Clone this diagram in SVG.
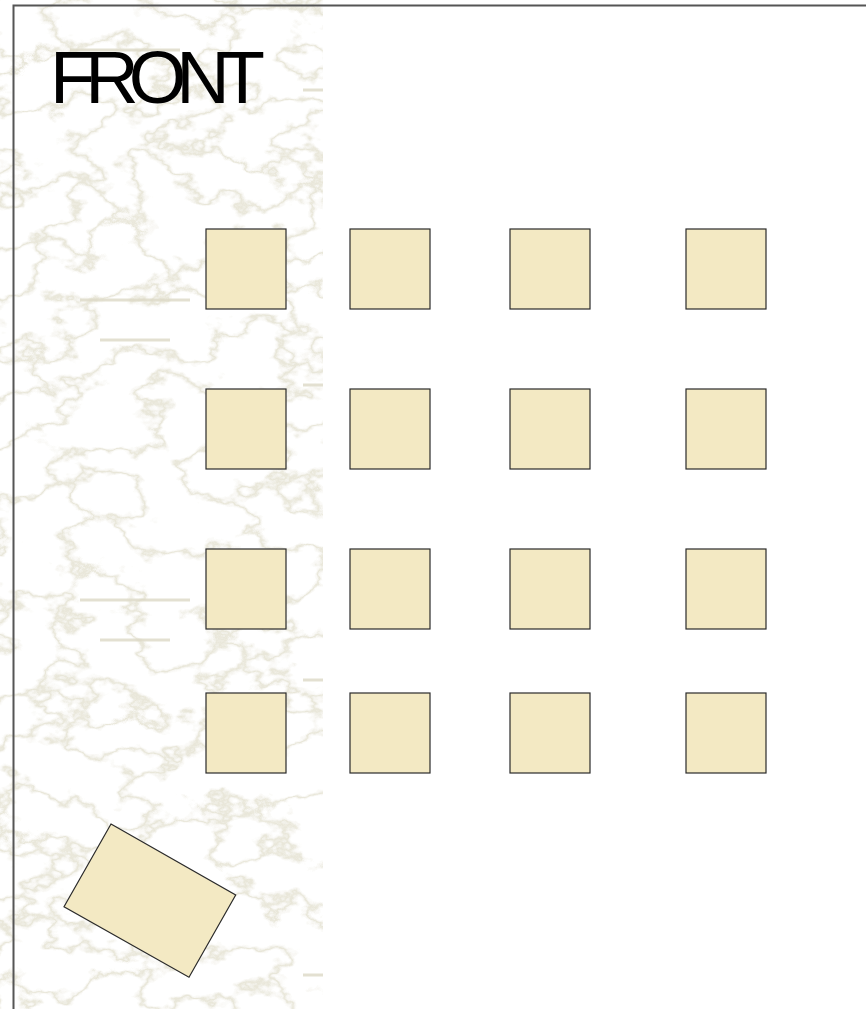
<svg xmlns="http://www.w3.org/2000/svg" width="866" height="1009" viewBox="0 0 866 1009">
<style>
.seat{fill:#F3E9C3;stroke:#2a2a2a;stroke-width:1.2}
.title{font-family:"Liberation Sans",Arial,sans-serif;font-size:74px;fill:#000;letter-spacing:-10px}
</style>
<defs>
<filter id="marble" x="0" y="0" width="323" height="1009" filterUnits="userSpaceOnUse">
<feTurbulence type="fractalNoise" baseFrequency="0.014 0.02" numOctaves="5" seed="11" result="t"/>
<feComponentTransfer in="t" result="band">
<feFuncR type="table" tableValues="0 0 0 0 0 0 0 0 0 0 0 0 0 0 0.3 1 0.3 0 0 0 0 0 0 0 0 0 0 0 0 0 0"/>
</feComponentTransfer>
<feColorMatrix in="band" type="matrix" values="0 0 0 0 0.76  0 0 0 0 0.74  0 0 0 0 0.62  0.8 0 0 0 0"/>
</filter>
<clipPath id="strip"><rect x="0" y="0" width="323" height="1009"/></clipPath>
</defs>
<rect x="0" y="0" width="866" height="1009" fill="#fff"/>
<g id="texture" clip-path="url(#strip)">
<rect x="0" y="0" width="323" height="1009" fill="#fff" filter="url(#marble)"/>
<g stroke="#dcd8c6" stroke-width="3" fill="none" opacity="0.8">
<path d="M80 300 H190 M80 600 H190 M100 340 H170 M100 640 H170 M70 50 H180"/>
<path d="M303 90 H323 M303 385 H323 M303 680 H323 M303 975 H323"/>
</g>
</g>
<g id="border" stroke="#555" stroke-width="2" fill="none">
<path d="M13.5 1009 V5.5 H866"/>
</g>
<g id="front"><text class="title" x="50" y="103">FRONT</text></g>
<g id="seats">
<rect id="s11" class="seat" x="206" y="229" width="80" height="80"/>
<rect id="s12" class="seat" x="350" y="229" width="80" height="80"/>
<rect id="s13" class="seat" x="510" y="229" width="80" height="80"/>
<rect id="s14" class="seat" x="686" y="229" width="80" height="80"/>
<rect id="s21" class="seat" x="206" y="389" width="80" height="80"/>
<rect id="s22" class="seat" x="350" y="389" width="80" height="80"/>
<rect id="s23" class="seat" x="510" y="389" width="80" height="80"/>
<rect id="s24" class="seat" x="686" y="389" width="80" height="80"/>
<rect id="s31" class="seat" x="206" y="549" width="80" height="80"/>
<rect id="s32" class="seat" x="350" y="549" width="80" height="80"/>
<rect id="s33" class="seat" x="510" y="549" width="80" height="80"/>
<rect id="s34" class="seat" x="686" y="549" width="80" height="80"/>
<rect id="s41" class="seat" x="206" y="693" width="80" height="80"/>
<rect id="s42" class="seat" x="350" y="693" width="80" height="80"/>
<rect id="s43" class="seat" x="510" y="693" width="80" height="80"/>
<rect id="s44" class="seat" x="686" y="693" width="80" height="80"/>
</g>
<g id="desk"><polygon class="seat" points="111,824 235.7,895 189,977.3 64,906.7"/></g>
</svg>
